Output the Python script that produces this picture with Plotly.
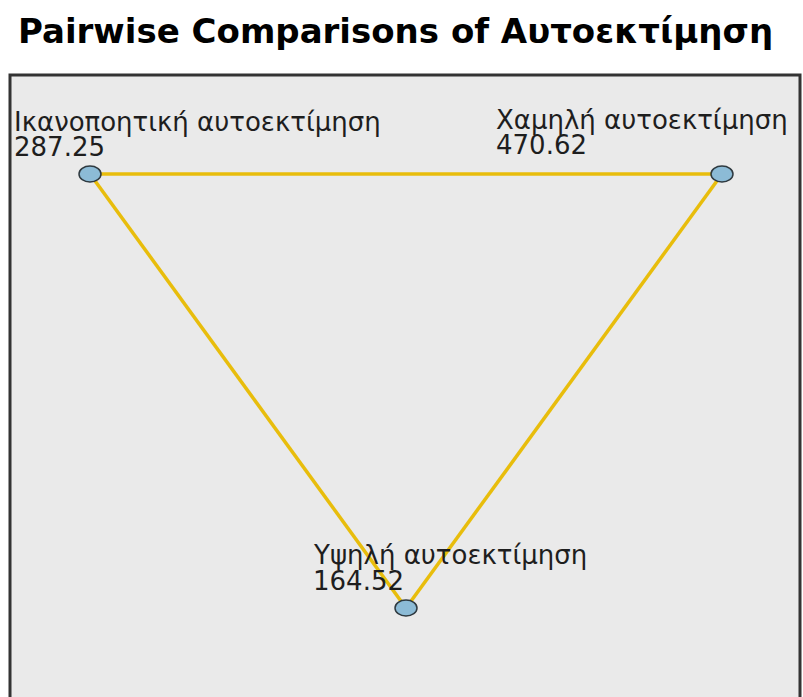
import plotly.graph_objects as go

# ---- data ----
node_names = ["Ικανοποητική αυτοεκτίμηση", "Χαμηλή αυτοεκτίμηση", "Υψηλή αυτοεκτίμηση"]
mean_ranks = [287.25, 470.62, 164.52]
node_x = [0.0, 1.0, 0.5]          # layout positions of the nodes
node_y = [1.0, 1.0, 0.0]
edges = [(0, 1), (0, 2), (1, 2)]  # pairwise comparisons drawn
title_text = "Pairwise Comparisons of Αυτοεκτίμηση"

# label pixel offsets relative to node (x start, line1 centre, line2 centre)
label_dx = [-78, -228, -95]
line1_dy = [52, 54, 53]
line2_dy = [27, 29, 27]

edge_color = "#E8BD0C"
node_fill = "#8CBBD6"
node_line = "#2F3A40"
font_fam = "DejaVu Sans"

fig = go.Figure()

for a, b in edges:
    fig.add_trace(go.Scatter(
        x=[node_x[a], node_x[b]], y=[node_y[a], node_y[b]],
        mode="lines", line=dict(color=edge_color, width=3.5),
        hoverinfo="skip", showlegend=False))

shapes = [dict(type="rect", xref="paper", yref="paper", x0=0, x1=1, y0=-0.3, y1=1,
               line=dict(color="#333333", width=3), fillcolor="rgba(0,0,0,0)", layer="above")]
for i in range(len(node_x)):
    shapes.append(dict(type="circle", xref="x", yref="y", xsizemode="pixel", ysizemode="pixel",
                       xanchor=node_x[i], yanchor=node_y[i], x0=-11, x1=11, y0=-8, y1=8,
                       fillcolor=node_fill, line=dict(color=node_line, width=1.5), layer="above"))

annotations = []
for i in range(len(node_x)):
    annotations.append(dict(x=node_x[i], y=node_y[i], xref="x", yref="y", text=node_names[i],
                            showarrow=False, xanchor="left", yanchor="middle",
                            xshift=label_dx[i], yshift=line1_dy[i],
                            font=dict(family=font_fam, size=26, color="#1E1E1E")))
    annotations.append(dict(x=node_x[i], y=node_y[i], xref="x", yref="y", text=f"{mean_ranks[i]:.2f}",
                            showarrow=False, xanchor="left", yanchor="middle",
                            xshift=label_dx[i], yshift=line2_dy[i],
                            font=dict(family=font_fam, size=26, color="#1E1E1E")))

fig.update_layout(
    width=803, height=697,
    margin=dict(l=10, r=3, t=75, b=0),
    paper_bgcolor="white", plot_bgcolor="#EAEAEA",
    title=dict(text=title_text, x=18 / 803, xanchor="left", y=1 - 31 / 697, yanchor="middle",
               font=dict(family=font_fam, size=34, color="black", weight="bold")),
    xaxis=dict(range=[(10 - 90) / 632, (800 - 90) / 632], visible=False, fixedrange=True),
    yaxis=dict(range=[-(697 - 608) / 434, 1 + (174 - 75) / 434], visible=False, fixedrange=True),
    shapes=shapes, annotations=annotations, showlegend=False,
)

fig.write_html("out.html", config={"displayModeBar": False},
               post_script="document.body.style.margin='0';document.body.style.overflow='hidden';")
